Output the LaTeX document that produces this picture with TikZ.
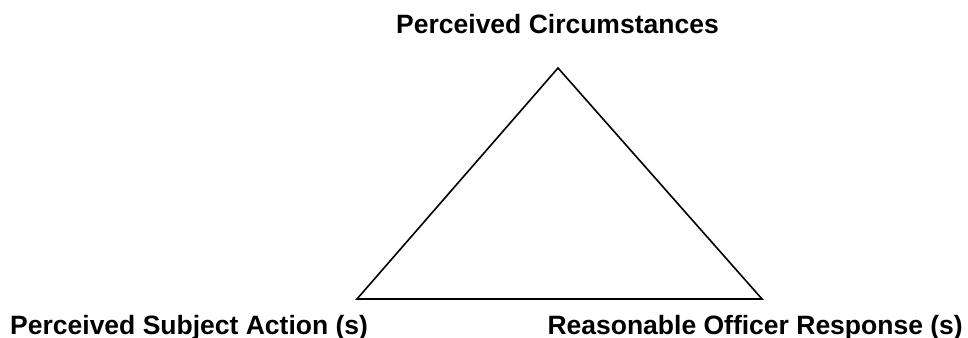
\documentclass[tikz,border=0pt]{standalone}
\usepackage{fontspec}
\setmainfont{Liberation Sans}
\begin{document}
\begin{tikzpicture}[x=1pt,y=-1pt,
  lbl/.style={inner sep=0pt,font=\fontsize{26.5}{30}\selectfont\bfseries},
  edge/.style={line width=1.6pt,line join=miter}]
\useasboundingbox (0,0) rectangle (968,337);
\coordinate (apex) at (558,68);
\coordinate (bl) at (357,299);
\coordinate (br) at (762,299);
\draw[edge] (apex) -- (bl) -- (br) -- cycle;
\node[lbl,anchor=base] (top) at (557.5,34) {Perceived Circumstances};
\node[lbl,anchor=base west] (left) at (10,334) {Perceived Subject Action (s)};
\node[lbl,anchor=base east] (right) at (963,334) {Reasonable Officer Response (s)};
\end{tikzpicture}
\end{document}
